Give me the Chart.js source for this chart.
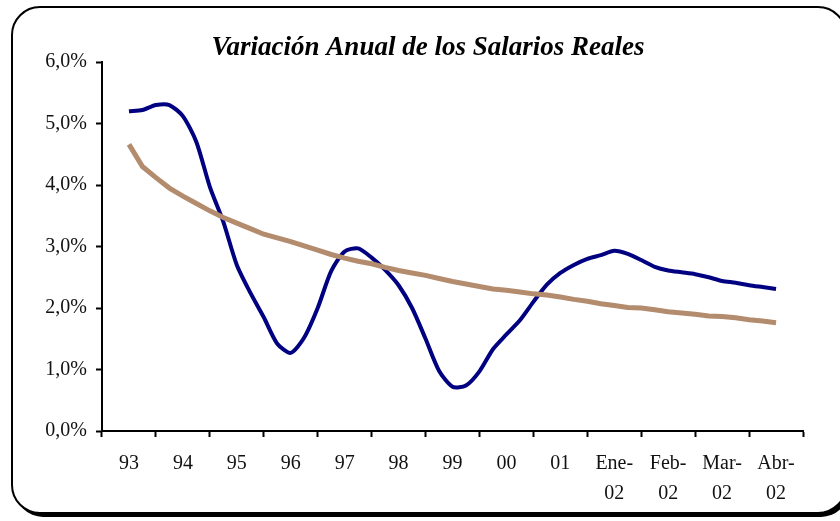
<!DOCTYPE html>
<html>
<head>
<meta charset="utf-8">
<script src="https://cdn.jsdelivr.net/npm/chart.js@4/dist/chart.umd.min.js"></script>
<style>
  html, body { margin: 0; padding: 0; background: #fff; }
  #caja { width: 840px; height: 521px; }
</style>
</head>
<body>
<div id="caja"><canvas id="grafico" width="840" height="521"></canvas></div>
<script>
// etiquetas del eje X (años y meses de 2002)
const categorias = ['93', '94', '95', '96', '97', '98', '99', '00', '01',
  ['Ene-', '02'], ['Feb-', '02'], ['Mar-', '02'], ['Abr-', '02']];

// variación anual del salario real (%), datos trimestrales
const salarioReal = [
  5.20, 5.22, 5.30, 5.30, 5.12, 4.70, 3.97, 3.40, 2.70, 2.25, 1.85, 1.42,
  1.27, 1.52, 2.00, 2.60, 2.92, 2.97, 2.82, 2.62, 2.37, 2.00, 1.50, 0.98,
  0.72, 0.74, 0.97, 1.33, 1.57, 1.80, 2.10, 2.38, 2.57, 2.70, 2.80, 2.86,
  2.93, 2.88, 2.78, 2.67, 2.61, 2.58, 2.55, 2.50, 2.44, 2.41, 2.37, 2.34, 2.31
];

// tendencia de largo plazo (%)
const tendencia = [
  4.66, 4.30, 4.12, 3.95, 3.82, 3.70, 3.58, 3.47, 3.38, 3.29, 3.20, 3.14,
  3.08, 3.01, 2.94, 2.87, 2.81, 2.76, 2.72, 2.66, 2.61, 2.57, 2.53, 2.48,
  2.43, 2.39, 2.35, 2.31, 2.29, 2.26, 2.23, 2.21, 2.18, 2.14, 2.11, 2.07,
  2.04, 2.01, 2.00, 1.97, 1.94, 1.92, 1.90, 1.87, 1.86, 1.84, 1.81, 1.79, 1.76
];

const ticksY = [0, 1, 2, 3, 4, 5, 6];
const titulo = 'Variación Anual de los Salarios Reales';

const puntosPorCategoria = 4;
function aPuntos(serie) {
  return serie.map((v, i) => ({ x: i / puntosPorCategoria, y: v }));
}

// marco redondeado con sombra y título centrado en el recuadro
const marco = {
  id: 'marco',
  beforeDraw(chart) {
    const c = chart.ctx;
    c.save();
    c.fillStyle = '#fff';
    c.fillRect(0, 0, chart.width, chart.height);
    c.shadowColor = '#000';
    c.shadowOffsetX = 3;
    c.shadowOffsetY = 4;
    c.shadowBlur = 0;
    c.beginPath();
    c.roundRect(12, 7, 834, 506, 28);
    c.fill();
    c.shadowColor = 'transparent';
    c.lineWidth = 2;
    c.strokeStyle = '#000';
    c.stroke();

    c.fillStyle = '#000';
    c.font = "italic bold 27px 'Liberation Serif', 'Times New Roman', serif";
    c.textAlign = 'center';
    c.textBaseline = 'alphabetic';
    c.fillText(titulo, 428, 55);
    c.restore();
  }
};

const fuente = { family: "'Liberation Serif', 'Times New Roman', serif", size: 20 };

const ctx = document.getElementById('grafico').getContext('2d');
new Chart(ctx, {
  type: 'line',
  data: {
    labels: categorias,
    datasets: [
      {
        label: 'Tendencia',
        data: aPuntos(tendencia),
        xAxisID: 'xv',
        borderColor: '#b38b6d',
        borderWidth: 5,
        pointRadius: 0,
        tension: 0
      },
      {
        label: 'Salario real',
        data: aPuntos(salarioReal),
        xAxisID: 'xv',
        borderColor: '#000080',
        borderWidth: 4,
        pointRadius: 0,
        tension: 0.25
      }
    ]
  },
  options: {
    responsive: false,
    animation: false,
    layout: { padding: { left: 16, right: 37, top: 62, bottom: 0 } },
    plugins: {
      legend: { display: false },
      tooltip: { enabled: false },
      title: { display: false }
    },
    scales: {
      x: {
        type: 'category',
        offset: true,
        grid: { offset: true, drawOnChartArea: false, tickLength: 6, tickWidth: 2, color: '#000' },
        border: { display: true, color: '#000', width: 2 },
        ticks: { color: '#111', font: { ...fuente, lineHeight: 1.5 }, padding: 12, maxRotation: 0, autoSkip: false },
        afterFit(s) { s.height = 90; }
      },
      xv: {
        type: 'linear',
        display: false,
        min: -0.5,
        max: categorias.length - 0.5
      },
      y: {
        min: ticksY[0],
        max: ticksY[ticksY.length - 1],
        afterBuildTicks(s) { s.ticks = ticksY.map(v => ({ value: v })); },
        grid: { drawOnChartArea: false, tickLength: 6, tickWidth: 2, color: '#000' },
        border: { display: true, color: '#000', width: 2 },
        ticks: {
          color: '#111',
          font: fuente,
          padding: 9,
          callback: v => v.toFixed(1).replace('.', ',') + '%'
        },
        afterFit(s) { s.width = 86; }
      }
    }
  },
  plugins: [marco]
});
</script>
</body>
</html>
